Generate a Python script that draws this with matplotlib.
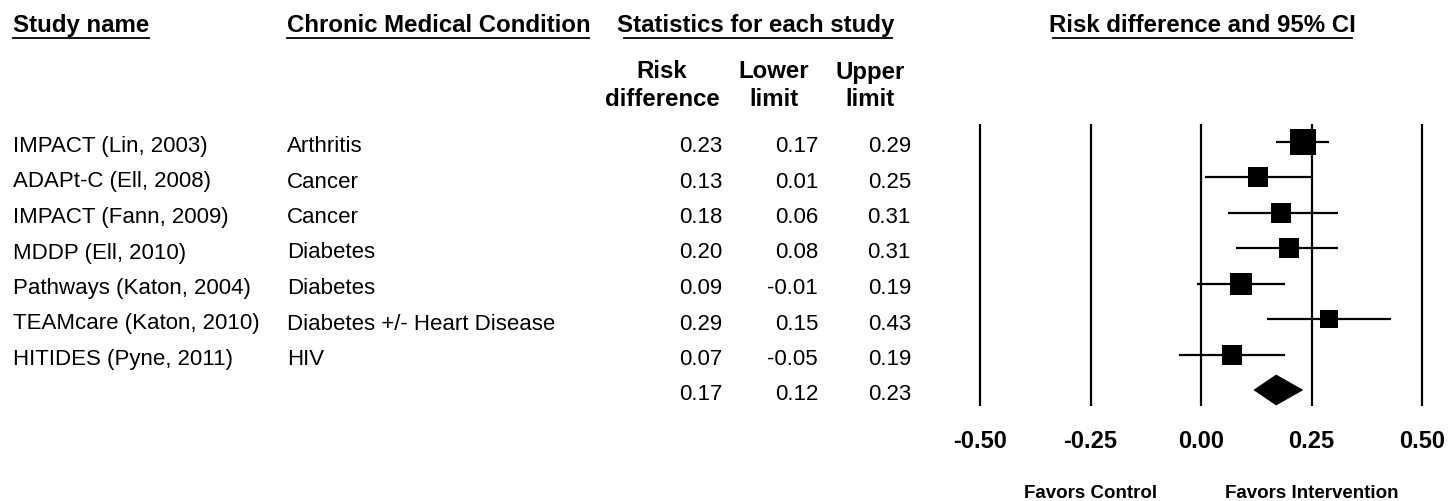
import matplotlib
matplotlib.use("Agg")
import matplotlib.pyplot as plt
from matplotlib.transforms import blended_transform_factory
from matplotlib.patches import Polygon
from matplotlib.lines import Line2D

plt.rcParams['font.family'] = ['Liberation Sans', 'DejaVu Sans']

# ---- data -------------------------------------------------------------
studies = [
    "IMPACT (Lin, 2003)",
    "ADAPt-C (Ell, 2008)",
    "IMPACT (Fann, 2009)",
    "MDDP (Ell, 2010)",
    "Pathways (Katon, 2004)",
    "TEAMcare (Katon, 2010)",
    "HITIDES (Pyne, 2011)",
]
conditions = [
    "Arthritis",
    "Cancer",
    "Cancer",
    "Diabetes",
    "Diabetes",
    "Diabetes +/- Heart Disease",
    "HIV",
]
risk_diff = [0.23, 0.13, 0.18, 0.20, 0.09, 0.29, 0.07]
lower = [0.17, 0.01, 0.06, 0.08, -0.01, 0.15, -0.05]
upper = [0.29, 0.25, 0.31, 0.31, 0.19, 0.43, 0.19]
weights = [22.4, 12.3, 12.3, 13.5, 14.9, 11.1, 13.5]   # relative weight (%)
summary_rd, summary_lo, summary_hi = 0.17, 0.12, 0.23

ticks = [-0.50, -0.25, 0.00, 0.25, 0.50]
tick_labels = ["-0.50", "-0.25", "0.00", "0.25", "0.50"]
stat_headers = [("Risk", "difference"), ("Lower", "limit"), ("Upper", "limit")]
favors = [("Favors Control", -0.25), ("Favors Intervention", 0.25)]

# ---- layout -----------------------------------------------------------
W, H = 1450, 501
fig = plt.figure(figsize=(W / 100, H / 100), dpi=100)
ax = fig.add_axes([0, 0, 1, 1])
ax.set_axis_off()

# horizontal scale: -0.5 sits at x=980 px and 0.5 at x=1422 px
px_per_unit = (1422 - 980) / 1.0
x_left = -0.5 - 980 / px_per_unit
ax.set_xlim(x_left, x_left + W / px_per_unit)

# one row every 35.5 px, first study row centred 141.5 px from the top
row_h, first_row = 35.5, 141.5
ax.set_ylim((H - first_row) / row_h, -first_row / row_h)

fx = lambda p: p / W            # pixel -> figure fraction (x)
fy = lambda p: 1 - p / H        # pixel from top -> figure fraction (y)
row_tr = blended_transform_factory(fig.transFigure, ax.transData)

HEAD = 17.3
BODY = 16

# column headers
fig.text(fx(13), fy(32.3), "Study name", fontsize=HEAD, fontweight="bold", va="baseline")
fig.text(fx(287), fy(32.3), "Chronic Medical Condition", fontsize=HEAD, fontweight="bold", va="baseline")
fig.text(fx(617), fy(32.3), "Statistics for each study", fontsize=HEAD, fontweight="bold", va="baseline")
fig.text(fx(1202), fy(32.3), "Risk difference and 95% CI", fontsize=HEAD, fontweight="bold",
         va="baseline", ha="center")
for x_a, x_b in [(13, 149), (287, 589), (624, 892), (1053, 1352)]:
    fig.add_artist(Line2D([fx(x_a), fx(x_b)], [fy(37.5), fy(37.5)], color="black",
                          lw=1.3, transform=fig.transFigure))

stat_centres = [662, 774, 870]
for (l1, l2), cx in zip(stat_headers, stat_centres):
    fig.text(fx(cx), fy(78.5), l1, fontsize=HEAD, fontweight="bold", ha="center", va="baseline")
    fig.text(fx(cx), fy(106.5), l2, fontsize=HEAD, fontweight="bold", ha="center", va="baseline")

# table rows
num_right = [722, 818, 911]
base_off = 10.5 / row_h
n = len(studies)
for i in range(n):
    y = i + base_off
    ax.text(fx(13), y, studies[i], transform=row_tr, fontsize=BODY, va="baseline")
    ax.text(fx(287), y, conditions[i], transform=row_tr, fontsize=BODY, va="baseline")
    for xr, v in zip(num_right, (risk_diff[i], lower[i], upper[i])):
        ax.text(fx(xr), y, f"{v:.2f}", transform=row_tr, fontsize=BODY, va="baseline", ha="right")
for xr, v in zip(num_right, (summary_rd, summary_lo, summary_hi)):
    ax.text(fx(xr), n + base_off, f"{v:.2f}", transform=row_tr, fontsize=BODY,
            va="baseline", ha="right")

# ---- forest plot -------------------------------------------------------
ax.vlines(ticks, -0.5, n + 0.45, color="black", lw=1.6, zorder=1)
ax.hlines(range(n), lower, upper, color="black", lw=1.6, zorder=2)
for i in range(n):
    side_px = 5.7 * weights[i] ** 0.5
    ax.plot(risk_diff[i], i, marker="s", ms=side_px * 0.72, mew=0, color="black", zorder=3)

dh = 15.0 / row_h
ax.add_patch(Polygon([(summary_lo, n), (summary_rd, n - dh), (summary_hi, n), (summary_rd, n + dh)],
                     closed=True, facecolor="black", edgecolor="black", lw=0.5, zorder=3))

tick_y = (448 - first_row) / row_h
for t, lab in zip(ticks, tick_labels):
    ax.text(t, tick_y, lab, fontsize=17, fontweight="bold", ha="center", va="baseline")

fav_y = (497.5 - first_row) / row_h
for lab, xc in favors:
    ax.text(xc, fav_y, lab, fontsize=13.5, fontweight="bold", ha="center", va="baseline")

fig.savefig("out.png", dpi=100, facecolor="white")
